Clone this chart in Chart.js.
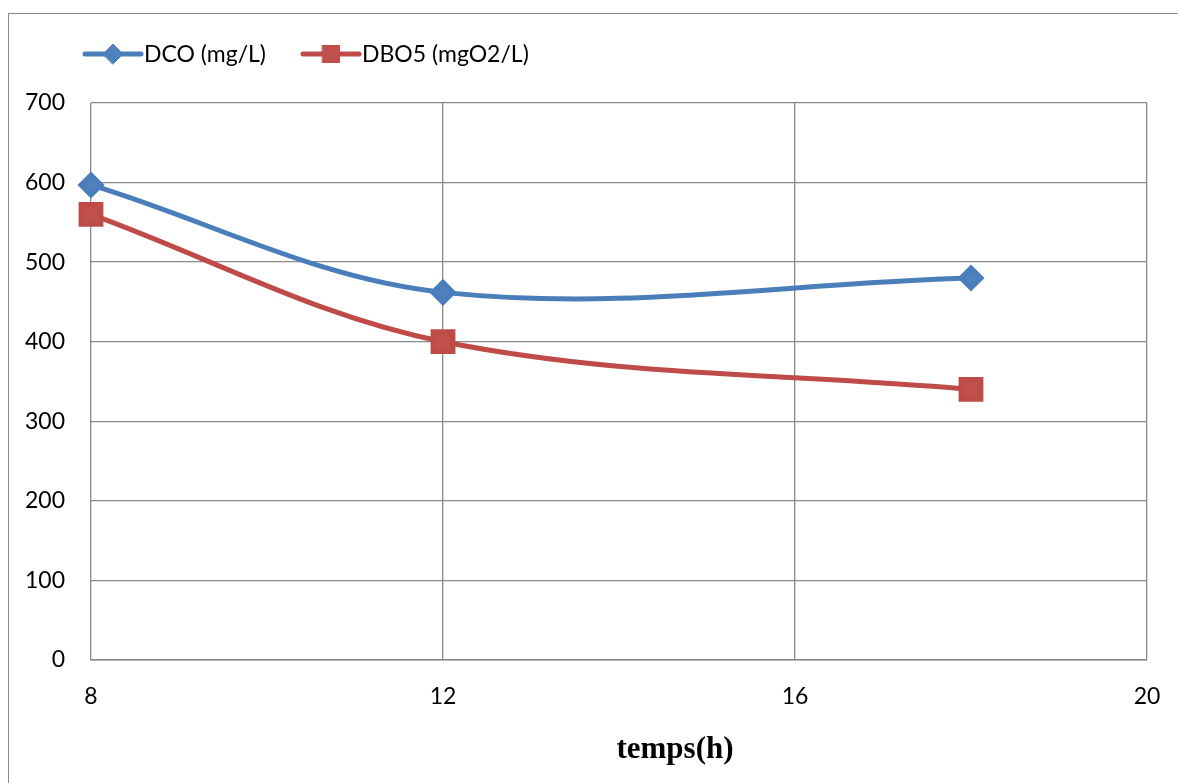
<!DOCTYPE html>
<html lang="fr">
<head>
  <meta charset="UTF-8" />
  <title>DCO / DBO5</title>
  <script src="https://cdn.jsdelivr.net/npm/chart.js"></script>
  <style>
    html, body { margin: 0; padding: 0; background: #fff; overflow: hidden; }
    #wrap { position: relative; width: 1178px; height: 783px; }
    #frame {
      position: absolute; left: 8px; top: 13px; right: -10px; bottom: -10px;
      border: 1.5px solid #8a8a8a; pointer-events: none;
    }
  </style>
</head>
<body>
  <div id="wrap">
    <canvas id="chart" width="1178" height="783"></canvas>
    <div id="frame"></div>
  </div>

  <script>
    // measurements over time
    const hours = [8, 12, 18];
    const dco = [597, 462, 480];
    const dbo5 = [560, 400, 340];
    const seriesLabels = ['DCO (mg/L)', 'DBO5 (mgO2/L)'];
    const xTitle = 'temps(h)';

    const gridColor = '#888888';
    const tickFont = { family: 'Lato', size: 23 };

    const toPoints = vals => vals.map((v, i) => ({ x: hours[i], y: v }));

    // legend drawn as line + marker + label, like the spreadsheet style
    const legendPlugin = {
      id: 'lineLegend',
      afterDraw(chart) {
        const ctx = chart.ctx;
        let x = 85;
        const y = 54;
        ctx.save();
        ctx.font = '23px Lato';
        ctx.textBaseline = 'middle';
        chart.data.datasets.forEach(ds => {
          ctx.strokeStyle = ds.borderColor;
          ctx.lineWidth = 5;
          ctx.lineCap = 'round';
          ctx.beginPath();
          ctx.moveTo(x, y);
          ctx.lineTo(x + 56, y);
          ctx.stroke();
          ctx.fillStyle = ds.pointBackgroundColor;
          ctx.strokeStyle = ds.pointBorderColor;
          ctx.lineWidth = 1;
          Chart.helpers.drawPoint(ctx, {
            pointStyle: ds.pointStyle,
            radius: ds.legendRadius,
            borderWidth: 1
          }, x + 28, y);
          ctx.fillStyle = '#000';
          ctx.fillText(ds.label, x + 59, y + 1);
          x += 59 + ctx.measureText(ds.label).width + 37;
        });
        ctx.restore();
      }
    };

    // axis title sits right of centre under the plot
    const titlePlugin = {
      id: 'xTitle',
      afterDraw(chart) {
        const { ctx, chartArea } = chart;
        ctx.save();
        ctx.font = 'bold 31px "Liberation Serif"';
        ctx.fillStyle = '#000';
        ctx.textAlign = 'center';
        ctx.textBaseline = 'middle';
        ctx.fillText(xTitle, chartArea.left + chartArea.width * 0.553, chartArea.bottom + 90);
        ctx.restore();
      }
    };

    new Chart(document.getElementById('chart'), {
      type: 'line',
      data: {
        datasets: [
          {
            label: seriesLabels[0],
            data: toPoints(dco),
            borderColor: '#4A7EBB',
            backgroundColor: '#4F81BD',
            pointBackgroundColor: '#4F81BD',
            pointBorderColor: '#4A7EBB',
            pointStyle: 'rectRot',
            pointRadius: 10,
            legendRadius: 10,
            borderWidth: 5,
            tension: 0.35,
            clip: false
          },
          {
            label: seriesLabels[1],
            data: toPoints(dbo5),
            borderColor: '#BE4B48',
            backgroundColor: '#C0504D',
            pointBackgroundColor: '#C0504D',
            pointBorderColor: '#BE4B48',
            pointStyle: 'rect',
            pointRadius: 14,
            legendRadius: 12,
            borderWidth: 5,
            tension: 0.35,
            clip: false
          }
        ]
      },
      options: {
        responsive: false,
        animation: false,
        events: [],
        layout: { padding: { top: 103, right: 31, bottom: 0, left: 0 } },
        plugins: {
          legend: { display: false },
          tooltip: { enabled: false }
        },
        scales: {
          x: {
            type: 'linear',
            min: 8,
            max: 20,
            afterFit(scale) {
              scale.height = 123;
              scale.paddingLeft = 0;
              scale.paddingRight = 0;
            },
            ticks: { stepSize: 4, color: '#000', font: tickFont, padding: 23 },
            grid: { color: gridColor, lineWidth: 1.3, drawTicks: false },
            border: { color: gridColor, width: 1.5 }
          },
          y: {
            min: 0,
            max: 700,
            afterFit(scale) {
              scale.width = 91;
              scale.paddingTop = 0;
              scale.paddingBottom = 0;
            },
            ticks: { stepSize: 100, color: '#000', font: tickFont, padding: 26 },
            grid: { color: gridColor, lineWidth: 1.3, drawTicks: false },
            border: { display: false }
          }
        }
      },
      plugins: [legendPlugin, titlePlugin]
    });
  </script>
</body>
</html>
